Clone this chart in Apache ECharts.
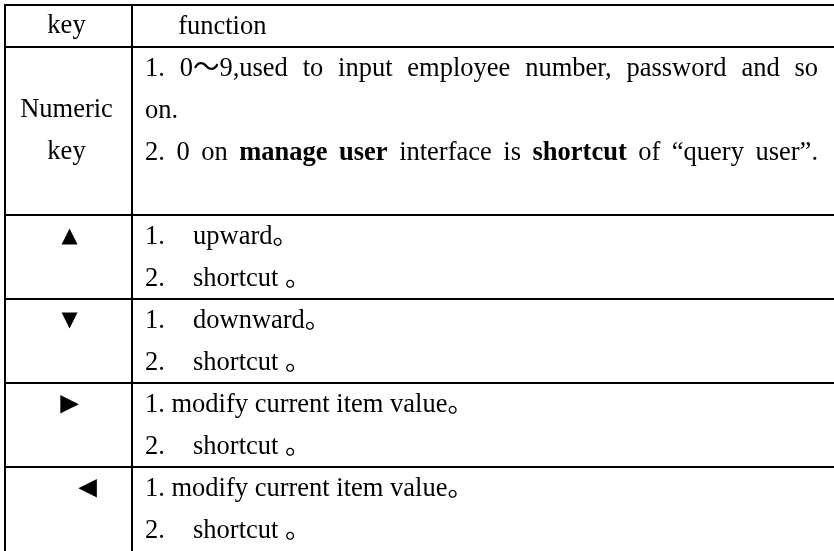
<!DOCTYPE html>
<html>
<head>
<meta charset="utf-8">
<script src="https://cdn.jsdelivr.net/npm/echarts@6/dist/echarts.min.js"></script>
<style>
html,body{margin:0;padding:0;background:#fff;}
#chart{width:834px;height:551px;}
</style>
</head>
<body>
<div id="chart"></div>
<script>
// ---- table content (data) ----
const keyColumn = [
  ["key"],
  ["", "Numeric", "key", ""],
  ["▲", ""],
  ["▼", ""],
  ["►", ""],
  ["◄", ""]
];
const functionColumn = [
  ["     function"],
  ["1. 0～9,used to input employee number, password and so",
   "on.",
   "2. 0 on **manage user** interface is **shortcut** of “query user”.",
   ""],
  ["1.\tupward。", "2.\tshortcut 。"],
  ["1.\tdownward。", "2.\tshortcut 。"],
  ["1. modify current item value。", "2.\tshortcut 。"],
  ["1. modify current item value。", "2.\tshortcut 。"]
];
// lines that are justified to the full cell width: [row, line]
const justifiedLines = [[1, 0], [1, 2]];

// ---- layout / style (code) ----
const FONT_SIZE = 26.5;
const FAMILY = "'Liberation Serif','Times New Roman','Noto Sans CJK SC',serif";
const SYMBOL_FAMILY = "'DejaVu Sans',sans-serif";
const POINTER_FAMILY = "'Liberation Sans','DejaVu Sans',sans-serif";
const SYMBOL_SIZE = 21;
const POINTER_SIZE = 31;
const KEY_COL = 127;       // x axis units
const TABLE_RIGHT = 840;
const PAD = 13, TAB = 48, TEXT_RIGHT = 686;

const lineCounts = functionColumn.map(r => r.length);
const rowStart = [];
let acc = 0;
lineCounts.forEach(c => { rowStart.push(acc); acc += c; });
const totalLines = acc;

const measureCtx = document.createElement('canvas').getContext('2d');
function fontStr(bold) { return (bold ? 'bold ' : '') + FONT_SIZE + 'px ' + FAMILY; }
function measure(t, bold) { measureCtx.font = fontStr(bold); return measureCtx.measureText(t).width; }
function isSymbol(t) { return /[▲▼►◄]/.test(t); }
function isJustified(i, j) { return justifiedLines.some(p => p[0] === i && p[1] === j); }

function textEl(t, x, y, bold, align, family, size) {
  return {
    type: 'text',
    style: {
      text: t, x: x, y: y,
      font: (bold ? 'bold ' : '') + (size || FONT_SIZE) + 'px ' + (family || FAMILY),
      fill: '#000',
      textAlign: align || 'left', textVerticalAlign: 'middle',
      align: align || 'left', verticalAlign: 'middle'
    }
  };
}
function lineEl(x1, y1, x2, y2) {
  return { type: 'line', shape: { x1, y1, x2, y2 }, style: { stroke: '#000', lineWidth: 2 } };
}

function renderItem(params, api) {
  const i = api.value(0);
  const top = rowStart[i], bottom = top + lineCounts[i];
  const pTL = api.coord([0, top]);
  const pBR = api.coord([TABLE_RIGHT, bottom]);
  const pDiv = api.coord([KEY_COL, top]);
  const children = [];
  children.push(lineEl(pTL[0] - 1, pTL[1], pBR[0], pTL[1]));
  children.push(lineEl(pTL[0], pTL[1], pTL[0], pBR[1] + 4));
  children.push(lineEl(pDiv[0], pTL[1], pDiv[0], pBR[1] + 4));

  const cx = (pTL[0] + pDiv[0]) / 2;
  keyColumn[i].forEach((t, j) => {
    if (!t) return;
    const y = api.coord([0, top + j + 0.5])[1];
    if (t === '▲' || t === '▼') {
      children.push(textEl(t, cx + 1, y + 1, false, 'center', SYMBOL_FAMILY, SYMBOL_SIZE));
    } else if (isSymbol(t)) {
      const dx = t === '◄' ? 19 : 1;
      children.push(textEl(t, cx + dx, y, false, 'center', POINTER_FAMILY, POINTER_SIZE));
    } else {
      children.push(textEl(t, cx - 2, y, false, 'center'));
    }
  });

  const x0 = pDiv[0] + PAD;
  functionColumn[i].forEach((t, j) => {
    if (!t) return;
    const y = api.coord([0, top + j + 0.5])[1] + 1;
    if (isJustified(i, j)) {
      const words = [];
      t.split('**').forEach((seg, k) => {
        seg.split(' ').forEach(w => { if (w) words.push({ t: w, b: k % 2 === 1 }); });
      });
      const widths = words.map(w => measure(w.t, w.b));
      const total = widths.reduce((a, b) => a + b, 0);
      const gap = (TEXT_RIGHT - PAD - total) / (words.length - 1);
      let x = x0;
      words.forEach((w, k) => {
        children.push(textEl(w.t, x, y, w.b));
        x += widths[k] + gap;
      });
    } else if (t.indexOf('\t') >= 0) {
      const parts = t.split('\t');
      children.push(textEl(parts[0], x0, y));
      children.push(textEl(parts[1], x0 + TAB, y));
    } else {
      children.push(textEl(t, x0, y));
    }
  });
  return { type: 'group', children };
}

const chart = echarts.init(document.getElementById('chart'), null, { renderer: 'canvas' });
chart.setOption({
  animation: false,
  backgroundColor: '#fff',
  grid: { left: 5, right: 0, top: 5, bottom: -1, containLabel: false },
  xAxis: { type: 'value', min: 0, max: 829, show: false },
  yAxis: { type: 'value', min: 0, max: totalLines, inverse: true, show: false },
  series: [{
    type: 'custom',
    coordinateSystem: 'cartesian2d',
    clip: false,
    silent: true,
    data: functionColumn.map((r, i) => [i]),
    renderItem: renderItem
  }]
});
</script>
</body>
</html>
